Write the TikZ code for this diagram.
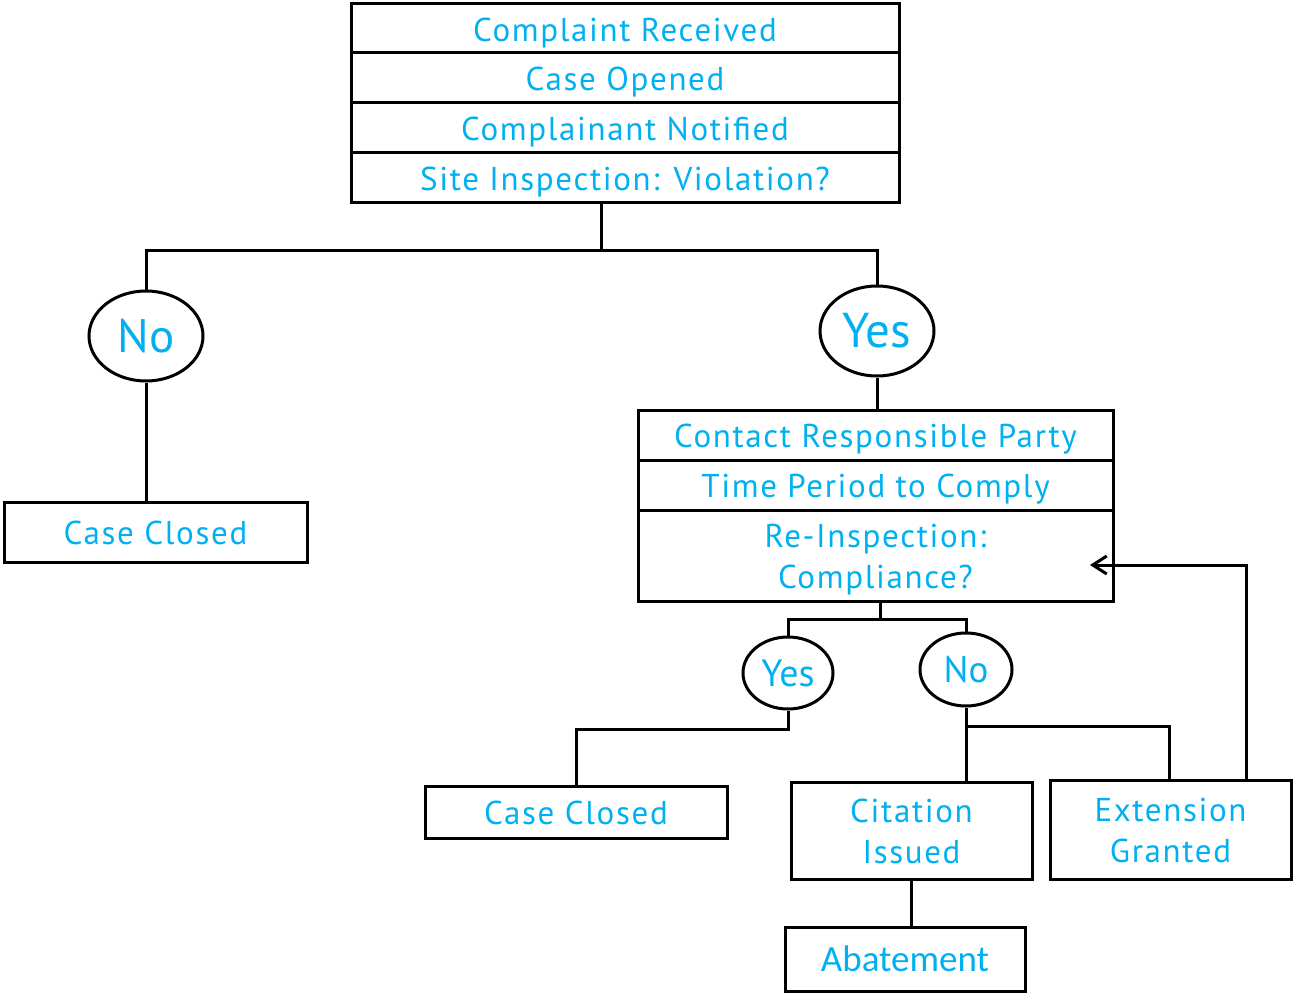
\documentclass[tikz,border=0pt]{standalone}
\usepackage{fontspec}
\setmainfont{PT Sans}
\newfontfamily\spaced[LetterSpace=5]{PT Sans}
\newfontfamily\calib{Carlito}
\usetikzlibrary{shapes.geometric,arrows.meta}
\definecolor{txtblue}{HTML}{00B0F0}
\newcommand\tx[1]{\raisebox{-4.5pt}[\height][\depth]{\begin{tabular}{@{}c@{}}#1\end{tabular}}}
\begin{document}
\begin{tikzpicture}[x=1pt,y=-1pt,
  box/.style={draw, line width=3pt, inner sep=0pt, align=center, text=txtblue,
    font=\spaced\fontsize{33}{41}\selectfont},
  oval/.style={draw, ellipse, line width=3pt, inner sep=0pt, text=txtblue},
  conn/.style={line width=3pt}]
\useasboundingbox (0,0) rectangle (1293,995);
% top stack
\node[box, minimum width=548pt, minimum height=49pt] (t1) at (625,28.5) {\tx{Complaint Received}};
\node[box, minimum width=548pt, minimum height=50pt] (t2) at (625,78) {\tx{Case Opened}};
\node[box, minimum width=548pt, minimum height=50pt] (t3) at (625,128) {\tx{Complainant Notified}};
\node[box, minimum width=548pt, minimum height=50pt] (t4) at (625,178) {\tx{Site Inspection: Violation?}};
% first decision
\node[oval, minimum width=114pt, minimum height=90pt, font=\fontsize{47}{50}\selectfont] (no1) at (146,336) {No};
\node[oval, minimum width=114pt, minimum height=90pt, font=\fontsize{49}{50}\selectfont] (yes1) at (877,331) {Yes};
\node[box, minimum width=303pt, minimum height=60pt] (cc1) at (155.5,532) {\tx{Case Closed}};
% second stack
\node[box, minimum width=475pt, minimum height=50pt] (b1) at (875.5,435) {\tx{Contact Responsible Party}};
\node[box, minimum width=475pt, minimum height=50pt] (b2) at (875.5,485) {\tx{Time Period to Comply}};
\node[box, minimum width=475pt, minimum height=91pt] (b3) at (875.5,555.5) {\tx{Re-Inspection:\\Compliance?}};
% second decision
\node[oval, minimum width=90pt, minimum height=72pt, font=\fontsize{38}{40}\selectfont] (yes2) at (788,673) {Yes};
\node[oval, minimum width=92pt, minimum height=73pt, font=\fontsize{37}{40}\selectfont] (no2) at (966,669.5) {No};
\node[box, minimum width=302pt, minimum height=52pt] (cc2) at (576,812) {\tx{Case Closed}};
\node[box, minimum width=241pt, minimum height=97pt] (cit) at (911.5,830.5) {\tx{Citation\\Issued}};
\node[box, minimum width=241pt, minimum height=99pt] (ext) at (1170.5,829.5) {\tx{Extension\\Granted}};
\node[box, minimum width=240pt, minimum height=64pt, font=\calib\fontsize{37}{40}\selectfont] (abat) at (905,959) {\tx{Abatement}};
% junctions
\coordinate (j1) at (601,250);
\coordinate (j2) at (880,619);
\coordinate (j3) at (787,729);
\coordinate (j4) at (966,726);
\coordinate (j5) at (1246,565);
\coordinate (tip) at (1090,565);
% connectors
\draw[conn] (t4.south -| j1) -- (j1);
\draw[conn] (no1.north) |- (j1) -| (yes1.north);
\draw[conn] (no1.south) -- (no1.south |- cc1.north);
\draw[conn] (yes1.south) -- (yes1.south |- b1.north);
\draw[conn] (b3.south -| j2) -- (j2);
\draw[conn] (yes2.north) |- (j2) -| (no2.north);
\draw[conn] (yes2.south) -- (yes2.south |- j3) -| (cc2.north);
\draw[conn] (no2.south) -- (no2.south |- cit.north);
\draw[conn] (j4) -| (ext.north -| 1169,0);
\draw[conn] (cit.south) -- (cit.south |- abat.north);
\draw[conn, -{Straight Barb[length=14pt,width=18pt,line width=3pt]}] (ext.north -| j5) |- (tip);
\end{tikzpicture}
\end{document}
